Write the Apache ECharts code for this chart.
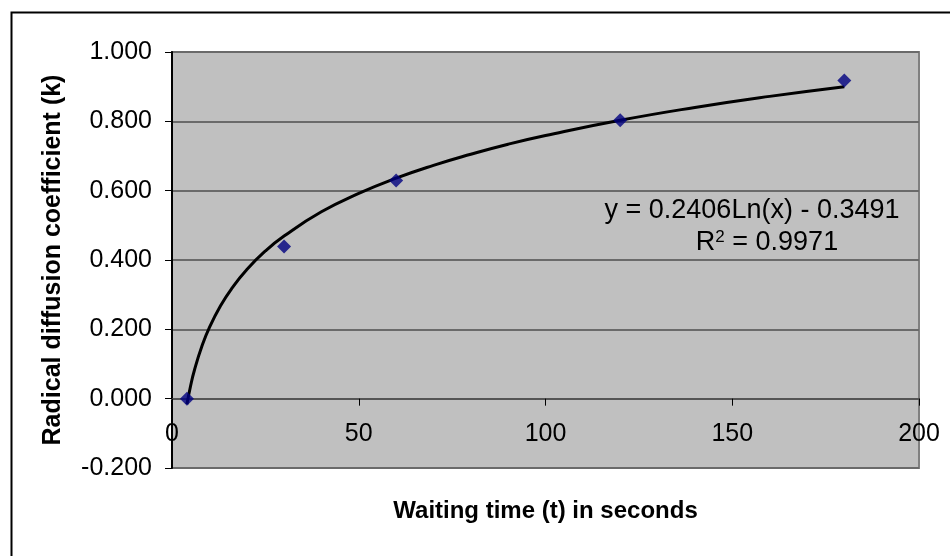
<!DOCTYPE html>
<html>
<head>
<meta charset="utf-8">
<title>Radical diffusion coefficient</title>
<script src="https://cdn.jsdelivr.net/npm/echarts@6/dist/echarts.min.js"></script>
<style>
  html, body { margin:0; padding:0; background:#fff; }
  #chart { width:950px; height:556px; }
</style>
</head>
<body>
<div id="chart"></div>
<script type="text/javascript">
// measured points
var waitTime = [4, 30, 60, 120, 180];
var coefK = [0.000, 0.439, 0.629, 0.803, 0.918];

// trendline
var trendX = [4, 5, 6, 8, 10, 13, 16, 20, 25, 30, 40, 50, 60, 70, 80, 90, 100, 120, 140, 160, 180];
var trendY = [-0.016, 0.038, 0.082, 0.151, 0.205, 0.268, 0.318, 0.372, 0.426, 0.469, 0.539, 0.592,
              0.636, 0.673, 0.705, 0.734, 0.759, 0.803, 0.840, 0.872, 0.900];

var eqLine1 = 'y = 0.2406Ln(x) - 0.3491';
var eqLine2 = 'R{sup|2} = 0.9971';

var font = 'Liberation Sans, Arial, sans-serif';

var pts = [], trend = [];
for (var i = 0; i < waitTime.length; i++) pts.push([waitTime[i], coefK[i]]);
for (var j = 0; j < trendX.length; j++) trend.push([trendX[j], trendY[j]]);

var myChart = echarts.init(document.getElementById('chart'));
var option = {
    animation: false,
    backgroundColor: '#fff',
    grid: {
        left: 172, top: 52, width: 747, height: 416,
        outerBoundsMode: 'none', containLabel: false,
        show: true, backgroundColor: '#c0c0c0',
        borderColor: '#808080', borderWidth: 2
    },
    xAxis: {
        type: 'value', min: 0, max: 200, interval: 50,
        name: 'Waiting time (t) in seconds',
        nameLocation: 'middle', nameGap: 31,
        nameTextStyle: { fontFamily: font, fontSize: 24, fontWeight: 'bold', color: '#000' },
        axisLine: { onZero: true, lineStyle: { color: '#555', width: 2 } },
        axisTick: { show: true, inside: false, length: 7, lineStyle: { color: '#000' } },
        // labels sit inside the plot, just under the zero line
        axisLabel: { fontFamily: font, fontSize: 25, color: '#000', margin: -46 },
        splitLine: { show: false }
    },
    yAxis: {
        type: 'value', min: -0.2, max: 1.0, interval: 0.2,
        name: 'Radical diffusion coefficient (k)',
        nameLocation: 'middle', nameGap: 106,
        nameTextStyle: { fontFamily: font, fontSize: 25, fontWeight: 'bold', color: '#000' },
        axisLine: { show: true, lineStyle: { color: '#000', width: 2 } },
        axisTick: { show: true, length: 7, lineStyle: { color: '#000' } },
        axisLabel: {
            fontFamily: font, fontSize: 25, color: '#000', margin: 20,
            formatter: function (v) { return v.toFixed(3); }
        },
        splitLine: { show: true, lineStyle: { color: '#6a6a6a', width: 2 } }
    },
    series: [
        {
            type: 'line', data: trend, smooth: true, showSymbol: false,
            lineStyle: { color: '#000', width: 3 }, z: 2
        },
        {
            type: 'scatter', data: pts, symbol: 'diamond', symbolSize: 14,
            itemStyle: { color: '#000080' }, z: 3
        }
    ],
    graphic: [
        {
            type: 'rect', left: 9, top: 10, z: 10, silent: true,
            shape: { width: 1000, height: 1000 },
            style: { fill: 'none', stroke: '#000', lineWidth: 2 }
        },
        {
            type: 'text', x: 752, y: 211, z: 10,
            style: { text: eqLine1, font: '27px ' + font, fill: '#000', align: 'center', verticalAlign: 'middle' }
        },
        {
            type: 'text', x: 767, y: 243, z: 10,
            style: {
                text: eqLine2, font: '27px ' + font, fill: '#000', align: 'center', verticalAlign: 'middle',
                rich: { sup: { fontSize: 17, fontFamily: font, verticalAlign: 'top', padding: [0, 0, 12, 0] } }
            }
        }
    ]
};
myChart.setOption(option);
</script>
</body>
</html>
